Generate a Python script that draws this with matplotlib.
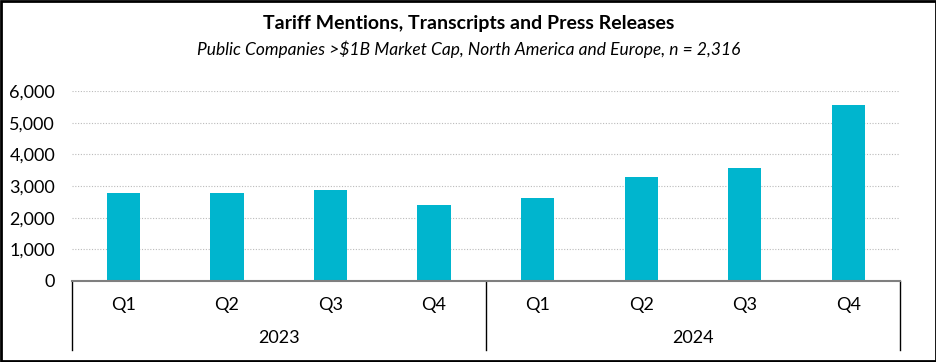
import matplotlib.pyplot as plt
from matplotlib.patches import Rectangle

# data
years = ["2023", "2024"]
quarters = ["Q1", "Q2", "Q3", "Q4", "Q1", "Q2", "Q3", "Q4"]
mentions = [2780, 2780, 2880, 2390, 2620, 3280, 3580, 5550]
yticks = [0, 1000, 2000, 3000, 4000, 5000, 6000]

bar_color = "#00B5CE"
plt.rcParams['font.family'] = ['Lato', 'DejaVu Sans']

fig = plt.figure(figsize=(9.37, 3.62), dpi=100)
ax = fig.add_axes([0.0765, 0.2238, 0.9605 - 0.0765, 0.7486 - 0.2238])

x = list(range(len(mentions)))
ax.bar(x, mentions, width=0.32, color=bar_color, zorder=3)

ax.set_xlim(-0.5, len(mentions) - 0.5)
ax.set_ylim(0, 6000)
ax.set_yticks(yticks)
ax.set_yticklabels([f"{v:,}" for v in yticks], fontsize=13)
ax.tick_params(axis='y', length=0, pad=12)
ax.set_xticks([])
ax.grid(axis='y', linestyle=(0, (1, 1.5)), color='#bbbbbb', linewidth=0.8, zorder=0)

for s in ['top', 'right', 'left']:
    ax.spines[s].set_visible(False)
ax.spines['bottom'].set_color('#7f7f7f')
ax.spines['bottom'].set_linewidth(1.5)
ax.spines['bottom'].set_zorder(4)

# quarter labels
trans = ax.get_xaxis_transform()
for i, q in enumerate(quarters):
    ax.text(i, -0.125, q, transform=trans, ha='center', va='center', fontsize=13)

# year labels and dividers
n_per = 4
for j, yr in enumerate(years):
    ax.text(j * n_per + (n_per - 1) / 2, -0.3, yr, transform=trans,
            ha='center', va='center', fontsize=13)
for xd in [-0.5, 3.5, 7.5]:
    ax.plot([xd, xd], [0, -0.365], transform=trans, color='black',
            linewidth=1, clip_on=False)

fig.text(0.5, 0.935, "Tariff Mentions, Transcripts and Press Releases",
         ha='center', va='center', fontsize=14, fontweight='bold')
fig.text(0.5, 0.865, "Public Companies >$1B Market Cap, North America and Europe, n = 2,316",
         ha='center', va='center', fontsize=12.5, style='italic')

fig.patches.append(Rectangle((0.001, 0.002), 0.998, 0.996, transform=fig.transFigure,
                             fill=False, edgecolor='black', linewidth=2))

fig.savefig("out.png", dpi=100)
